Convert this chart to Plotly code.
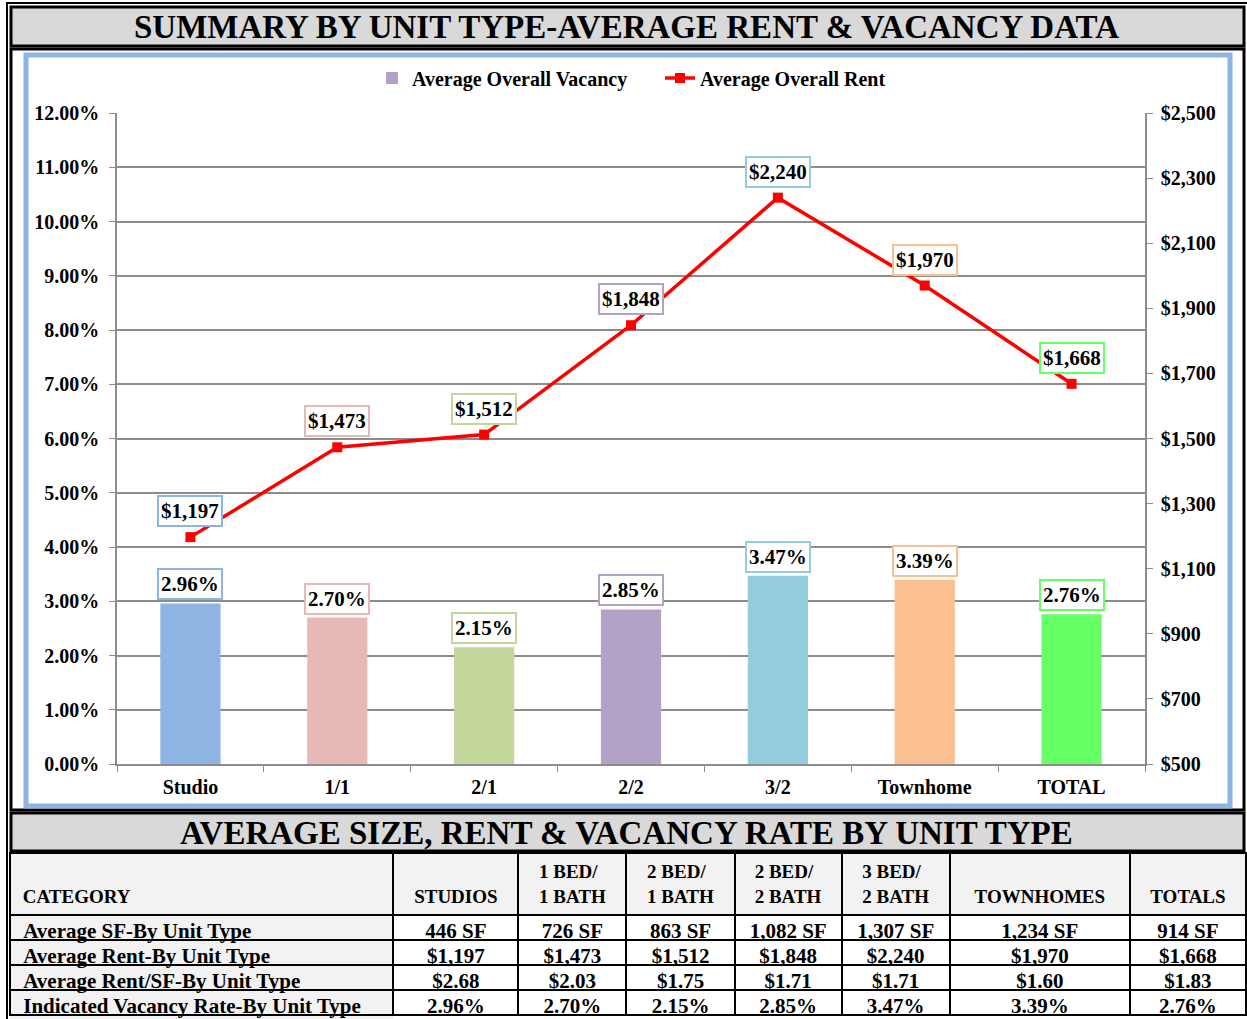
import plotly.graph_objects as go

# ---------------- data ----------------
categories = ["Studio", "1/1", "2/1", "2/2", "3/2", "Townhome", "TOTAL"]
vacancy = [0.0296, 0.0270, 0.0215, 0.0285, 0.0347, 0.0339, 0.0276]
rent = [1197, 1473, 1512, 1848, 2240, 1970, 1668]
bar_colors = ["#8EB4E3", "#E6B9B8", "#C3D69B", "#B3A2C7", "#93CDDD", "#FAC090", "#66FF66"]

table_columns = ["STUDIOS", "1 BED/<br>1 BATH", "2 BED/<br>1 BATH", "2 BED/<br>2 BATH",
                 "3 BED/<br>2 BATH", "TOWNHOMES", "TOTALS"]
row_labels = ["Average SF-By Unit Type", "Average Rent-By Unit Type",
              "Average Rent/SF-By Unit Type", "Indicated Vacancy Rate-By Unit Type"]
avg_sf = [446, 726, 863, 1082, 1307, 1234, 914]
avg_rent = [1197, 1473, 1512, 1848, 2240, 1970, 1668]
rent_per_sf = [2.68, 2.03, 1.75, 1.71, 1.71, 1.60, 1.83]
vacancy_rate = [2.96, 2.70, 2.15, 2.85, 3.47, 3.39, 2.76]

title_text = "SUMMARY BY UNIT TYPE-AVERAGE RENT & VACANCY DATA"
table_title = "AVERAGE SIZE, RENT & VACANCY RATE BY UNIT TYPE"

# ---------------- helpers ----------------
W, H = 1247, 1019
FONT = "Liberation Serif"
NB = "\u00a0"


def px(x):
    return x / W


def py(y):
    return 1 - y / H


def bfont(size):
    return dict(family=FONT, size=size, color="black", weight="bold")


fig = go.Figure()

# legend swatch for the vacancy bars (purple, as in the original legend)
fig.add_trace(go.Bar(x=[None], y=[None], name="Average Overall Vacancy",
                     marker=dict(color="#B3A2C7", line_width=0), showlegend=True))
fig.add_trace(go.Bar(x=categories, y=vacancy, width=0.41, showlegend=False,
                     marker=dict(color=bar_colors, line_width=0),
                     name="Average Overall Vacancy", hoverinfo="skip"))
fig.add_trace(go.Scatter(x=categories, y=rent, yaxis="y2", mode="lines+markers",
                         name="Average Overall Rent",
                         line=dict(color="#FF0000", width=3.5),
                         marker=dict(symbol="square", size=10, color="#FF0000")))

annotations = []
for c, v, col in zip(categories, vacancy, bar_colors):
    annotations.append(dict(x=c, y=v, xref="x", yref="y", text=f"{v*100:.2f}%",
                            showarrow=False, yanchor="bottom", yshift=3,
                            bgcolor="white", bordercolor=col, borderwidth=2, borderpad=2,
                            font=bfont(21)))
for c, r, col in zip(categories, rent, bar_colors):
    annotations.append(dict(x=c, y=r, xref="x", yref="y2", text=f"${r:,}",
                            showarrow=False, yanchor="bottom", yshift=10,
                            bgcolor="white", bordercolor=col, borderwidth=2, borderpad=2,
                            font=bfont(21)))

# banner titles
annotations.append(dict(x=px(627), y=py(27), xref="paper", yref="paper", text=title_text,
                        showarrow=False, xanchor="center", yanchor="middle", font=bfont(33)))
annotations.append(dict(x=px(627), y=py(833), xref="paper", yref="paper", text=table_title,
                        showarrow=False, xanchor="center", yanchor="middle", font=bfont(33)))

shapes = [
    # outer frame
    dict(type="rect", xref="paper", yref="paper", x0=px(7), x1=px(1252), y0=py(1024), y1=py(3),
         line=dict(color="black", width=2), layer="below"),
    # title banner
    dict(type="rect", xref="paper", yref="paper", x0=px(11), x1=px(1244), y0=py(46), y1=py(7),
         fillcolor="#D9D9D9", line=dict(color="black", width=3), layer="below"),
    # chart section frame
    dict(type="rect", xref="paper", yref="paper", x0=px(11), x1=px(1244), y0=py(810), y1=py(49),
         line=dict(color="black", width=3), layer="below"),
    dict(type="rect", xref="paper", yref="paper", x0=px(26), x1=px(1230), y0=py(806), y1=py(55),
         line=dict(color="#8DB4E2", width=5), layer="below"),
    # table banner
    dict(type="rect", xref="paper", yref="paper", x0=px(11), x1=px(1244), y0=py(851), y1=py(813),
         fillcolor="#D9D9D9", line=dict(color="black", width=3), layer="below"),
    # light-grey background of the category column (table cells are transparent)
    dict(type="rect", xref="paper", yref="paper", x0=px(10), x1=px(393), y0=py(1019), y1=py(913),
         fillcolor="#F2F2F2", line=dict(width=0), layer="below"),
]

# ---------------- table ----------------
hdr = [NB + "<br>" + NB + "CATEGORY"] + [h if "<br>" in h else NB + "<br>" + h
                                         for h in table_columns]
cells = [[NB + r for r in row_labels]]
for i in range(len(table_columns)):
    cells.append([f"{avg_sf[i]:,} SF", f"${avg_rent[i]:,}", f"${rent_per_sf[i]:.2f}",
                  f"{vacancy_rate[i]:.2f}%"])

fig.add_trace(go.Table(
    domain=dict(x=[px(10), px(1246)], y=[0, py(853)]),
    columnwidth=[383, 125, 108, 108, 107, 108, 180, 116],
    header=dict(values=hdr, align=["left"] + ["center"] * 7, height=54,
                fill_color="#F2F2F2", line=dict(color="black", width=2),
                font=bfont(19)),
    cells=dict(values=cells, align=["left"] + ["center"] * 7, height=25,
               fill_color="rgba(0,0,0,0)",
               line=dict(color="black", width=2),
               font=bfont(21)),
))

axis_gray = "#8C8C8C"
fig.update_layout(
    width=W, height=H, margin=dict(l=0, r=0, t=0, b=0, autoexpand=False),
    paper_bgcolor="white", plot_bgcolor="white",
    font=bfont(20),
    barmode="overlay",
    showlegend=True,
    legend=dict(orientation="h", x=px(372), xanchor="left", y=py(78), yanchor="middle",
                font=bfont(20), entrywidth=243, entrywidthmode="pixels",
                bgcolor="rgba(0,0,0,0)", traceorder="normal"),
    xaxis=dict(domain=[px(117), px(1145)], type="category", tickson="boundaries",
               ticks="outside", ticklen=6, tickcolor=axis_gray, showline=True,
               linecolor=axis_gray, linewidth=1.5, showgrid=False, automargin=False,
               ticklabelstandoff=4, tickfont=bfont(20), fixedrange=True),
    yaxis=dict(domain=[py(764), py(113)], range=[0, 0.12], dtick=0.01, tickformat=".2%",
               showgrid=True, gridcolor=axis_gray, gridwidth=1.5, showline=True,
               linecolor=axis_gray, linewidth=1.5, ticks="outside", ticklen=6,
               tickcolor=axis_gray, zeroline=False, ticklabelstandoff=6, automargin=False,
               tickfont=bfont(20), fixedrange=True),
    yaxis2=dict(overlaying="y", side="right", range=[500, 2500], tick0=500, dtick=200,
                tickprefix="$", tickformat=",", showgrid=False, showline=True,
                linecolor=axis_gray, linewidth=1.5, ticks="outside", ticklen=6,
                tickcolor=axis_gray, zeroline=False, ticklabelstandoff=4, automargin=False,
                tickfont=bfont(20), fixedrange=True),
    annotations=annotations,
    shapes=shapes,
)

fig.write_html("out.html", config={"displayModeBar": False},
               post_script="document.body.style.margin='0';")
